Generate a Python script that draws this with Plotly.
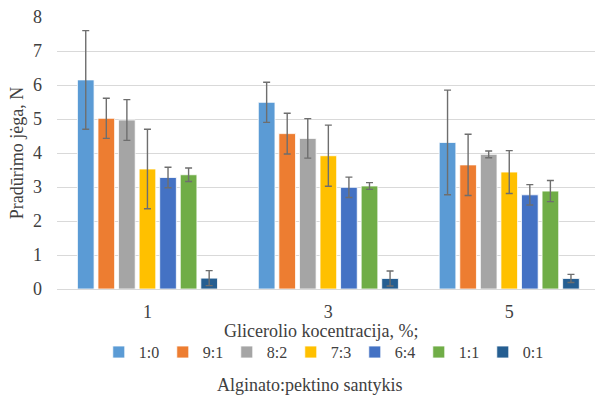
import plotly.graph_objects as go

# Glycerol concentration groups (x axis) and alginate:pectin ratios (series)
glicerolis = ["1", "3", "5"]
santykiai = ["1:0", "9:1", "8:2", "7:3", "6:4", "1:1", "0:1"]

# Puncture force, N (mean per ratio, one value per glycerol group)
jega = {
    "1:0": [6.15, 5.49, 4.31],
    "9:1": [5.02, 4.57, 3.65],
    "8:2": [4.97, 4.43, 3.96],
    "7:3": [3.53, 3.92, 3.44],
    "6:4": [3.28, 2.99, 2.77],
    "1:1": [3.36, 3.03, 2.88],
    "0:1": [0.32, 0.31, 0.31],
}

# Standard deviations, N
nuokrypis = {
    "1:0": [1.45, 0.59, 1.54],
    "9:1": [0.59, 0.60, 0.90],
    "8:2": [0.60, 0.58, 0.10],
    "7:3": [1.17, 0.90, 0.63],
    "6:4": [0.30, 0.30, 0.30],
    "1:1": [0.20, 0.10, 0.31],
    "0:1": [0.22, 0.22, 0.12],
}

spalvos = ["#5B9BD5", "#ED7D31", "#A5A5A5", "#FFC000", "#4472C4", "#70AD47", "#255E91"]

FONT = "Times New Roman, Liberation Serif, serif"
TXT = "#404040"
BIG = 18
SMALL = 16

fig = go.Figure()
x_pos = list(range(len(glicerolis)))
for s, c in zip(santykiai, spalvos):
    fig.add_trace(go.Bar(
        name=s,
        x=x_pos,
        y=jega[s],
        marker=dict(color=c, line=dict(color="white", width=0.8)),
        error_y=dict(type="data", array=nuokrypis[s], visible=True,
                     color="#6E6E6E", thickness=1.4, width=3.5),
    ))

fig.update_layout(
    width=595, height=403,
    margin=dict(l=57, r=0, t=17, b=114),
    paper_bgcolor="white", plot_bgcolor="white",
    barmode="group", bargap=0.204, bargroupgap=0.19,
    font=dict(family=FONT, size=BIG, color=TXT),
    showlegend=True,
    legend=dict(
        orientation="h", x=0.494, xanchor="center", y=-0.232, yanchor="middle",
        entrywidth=19, entrywidthmode="pixels",
        font=dict(family=FONT, size=SMALL, color=TXT),
        itemwidth=30, traceorder="normal",
    ),
    xaxis=dict(
        tickmode="array", tickvals=x_pos, ticktext=glicerolis,
        range=[-0.5, 2.474], showgrid=False, showline=False, zeroline=False,
        ticks="", ticklabelstandoff=10,
        tickfont=dict(family=FONT, size=BIG, color=TXT),
    ),
    yaxis=dict(
        range=[0, 8], dtick=1, showgrid=True, gridcolor="#D9D9D9", gridwidth=1,
        zeroline=True, zerolinecolor="#D9D9D9", zerolinewidth=1,
        showline=False, ticks="", ticklabelstandoff=14,
        tickfont=dict(family=FONT, size=BIG, color=TXT),
        title=dict(text="Pradūrimo jėga, N", standoff=4,
                   font=dict(family=FONT, size=BIG, color=TXT)),
    ),
    annotations=[
        dict(text="Glicerolio kocentracija, %;", xref="paper", yref="paper",
             x=0.49, y=-0.153, xanchor="center", yanchor="middle",
             showarrow=False, font=dict(family=FONT, size=BIG, color=TXT)),
        dict(text="Alginato:pektino santykis", xref="paper", yref="paper",
             x=0.47, y=-0.353, xanchor="center", yanchor="middle",
             showarrow=False, font=dict(family=FONT, size=BIG, color=TXT)),
    ],
)

fig.write_html("out.html")
